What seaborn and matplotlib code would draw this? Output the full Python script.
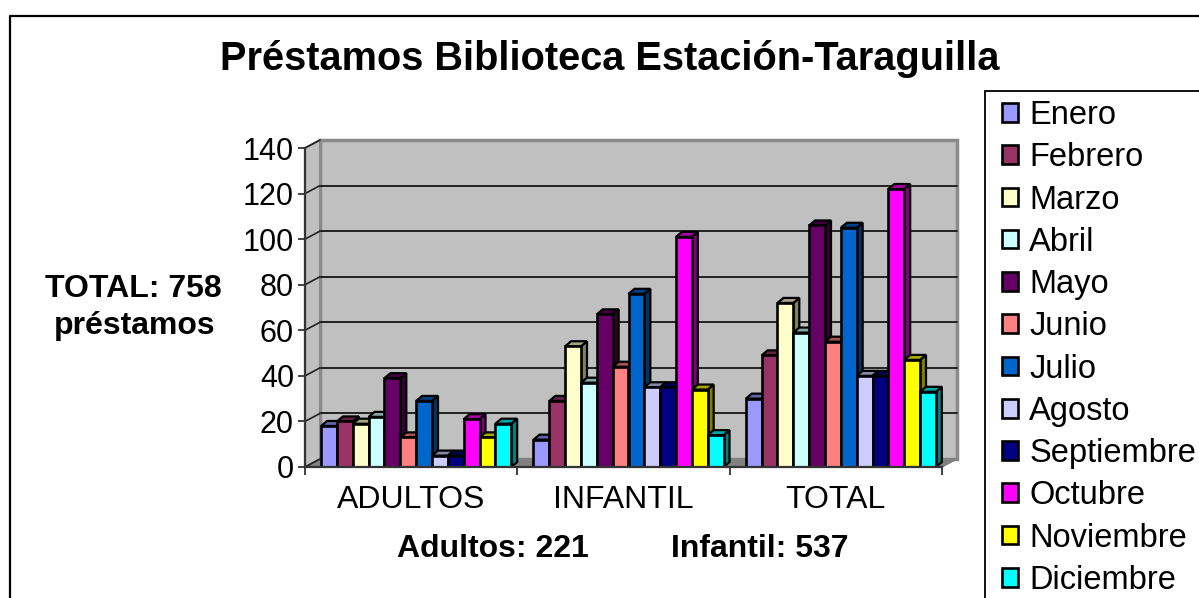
import matplotlib
matplotlib.use("Agg")
import matplotlib.pyplot as plt
from matplotlib.colors import to_rgb
from matplotlib.lines import Line2D
from matplotlib.patches import Polygon, Rectangle
import pandas as pd
import seaborn as sns

# ── Data ──────────────────────────────────────────────────────────────────────
groups = ["ADULTOS", "INFANTIL", "TOTAL"]
months = ["Enero", "Febrero", "Marzo", "Abril", "Mayo", "Junio", "Julio",
          "Agosto", "Septiembre", "Octubre", "Noviembre", "Diciembre"]
adultos = [18, 20, 19, 22, 39, 13, 29, 5, 5, 21, 13, 19]
infantil = [12, 29, 53, 37, 67, 44, 76, 35, 35, 101, 34, 14]
total = [30, 49, 72, 59, 106, 55, 105, 40, 40, 122, 47, 33]
month_colors = ["#9999FF", "#993366", "#FFFFCC", "#CCFFFF", "#660066", "#FF8080",
                "#0066CC", "#CCCCFF", "#000080", "#FF00FF", "#FFFF00", "#00FFFF"]
y_ticks = [0, 20, 40, 60, 80, 100, 120, 140]

df = pd.DataFrame({
    "grupo": [g for g in groups for _ in months],
    "mes": months * 3,
    "prestamos": adultos + infantil + total,
})

# ── Layout (pixels of the 1199x598 picture) ───────────────────────────────────
W, H = 1199, 598
X0, X1, Y0, Y1 = 305, 942, 467, 148   # front plane of the plot
DX_PX, DY_PX = 15, 8                  # depth of the walls
BAR_DX_PX, BAR_DY_PX = 6, 5           # depth of each bar
BAR_SHIFT_PX = 5                      # bars stand a little behind the front plane

sns.set_theme(style="white")
plt.rcParams["font.family"] = ["Liberation Sans", "DejaVu Sans"]

fig = plt.figure(figsize=(W / 100, H / 100), dpi=100)
ax = fig.add_axes([X0 / W, 1 - Y0 / H, (X1 - X0) / W, (Y0 - Y1) / H])
ax.patch.set_alpha(0)

sns.barplot(data=df, x="grupo", y="prestamos", hue="mes", order=groups,
            hue_order=months, palette=month_colors, width=0.895, gap=0,
            edgecolor="black", linewidth=1.9, saturation=1, ax=ax)

ax.set_xlim(-0.5, 2.5)
ax.set_ylim(0, 140)
ax.set_xlabel("")
ax.set_ylabel("")
ax.set_yticks(y_ticks)

px_x = 3 / (X1 - X0)      # data units per pixel
px_y = 140 / (Y0 - Y1)
dx, dy = DX_PX * px_x, DY_PX * px_y
bdx, bdy = BAR_DX_PX * px_x, BAR_DY_PX * px_y
xa, xb = ax.get_xlim()

# Walls and floor
wall = "#C0C0C0"
frame = "#8A8A8A"
ax.add_patch(Rectangle((xa + dx, dy), xb - xa, 140, facecolor=wall, edgecolor=frame,
                       linewidth=2.5, clip_on=False, zorder=0.1))
ax.add_patch(Polygon([(xa, 0), (xa + dx, dy), (xa + dx, 140 + dy), (xa, 140)],
                     facecolor=wall, edgecolor=frame, linewidth=1.5,
                     clip_on=False, zorder=0.2))
ax.add_patch(Polygon([(xa, 0), (xa + dx, dy), (xb + dx, dy), (xb, 0)],
                     facecolor="#808080", edgecolor="#808080", linewidth=1,
                     clip_on=False, zorder=0.3))
for v in y_ticks[1:-1]:
    ax.plot([xa + dx, xb + dx], [v + dy, v + dy], color="#222222", lw=1.4,
            clip_on=False, zorder=0.4)
for v in y_ticks:
    ax.plot([xa, xa + dx], [v, v + dy], color="#222222", lw=1.2,
            clip_on=False, zorder=0.4)

# 3D look on the bars, built from the bars seaborn drew
bars = [p for p in ax.patches if isinstance(p, Rectangle) and p.get_zorder() >= 1
        and p.get_height() > 0 and p.get_facecolor()[3] > 0]
bars = sorted(bars, key=lambda p: p.get_x())
for i, bar in enumerate(bars):
    bar.set_x(bar.get_x() + BAR_SHIFT_PX * px_x)
    x, w, h = bar.get_x(), bar.get_width(), bar.get_height()
    rgb = to_rgb(bar.get_facecolor())
    z = 2 + i * 0.01
    bar.set_zorder(z + 0.005)
    ax.add_patch(Polygon([(x + w, 0), (x + w + bdx, bdy), (x + w + bdx, h + bdy), (x + w, h)],
                         facecolor=[c * 0.5 for c in rgb], edgecolor="black",
                         linewidth=1.6, clip_on=False, zorder=z))
    ax.add_patch(Polygon([(x, h), (x + bdx, h + bdy), (x + w + bdx, h + bdy), (x + w, h)],
                         facecolor=[c * 0.65 for c in rgb], edgecolor="black",
                         linewidth=1.6, clip_on=False, zorder=z))

# Axes
sns.despine(ax=ax)
for side in ["left", "bottom"]:
    ax.spines[side].set_color("#333333")
    ax.spines[side].set_linewidth(1.6)
    ax.spines[side].set_zorder(5)
ax.tick_params(axis="y", left=True, length=5, width=1.2, color="#222222",
               labelsize=22, pad=3, labelcolor="black")
ax.set_xticks([-0.5, 0.5, 1.5, 2.5], minor=True)
ax.tick_params(axis="x", which="minor", bottom=True, length=6, width=1.2, color="#222222")
ax.tick_params(axis="x", which="major", bottom=False, labelsize=23, pad=7, labelcolor="black")

# Legend box runs past the right and bottom edge like the reference
fig.add_artist(Rectangle((985 / W, -0.05), 0.2, 1.05 - 91 / H, transform=fig.transFigure,
                         facecolor="white", edgecolor="black", linewidth=1.3, zorder=-1))
sns.move_legend(ax, "upper left", bbox_to_anchor=(1002 / W, 1 - 100 / H),
                bbox_transform=fig.transFigure, title=None, frameon=False, fontsize=23.5,
                borderaxespad=0, labelspacing=0.345, handlelength=0.5, handleheight=0.5,
                handletextpad=0.33, borderpad=0, labelcolor="black")

# Texts
def label(x, y, s, size, **kw):
    fig.text(x / W, 1 - y / H, s, fontsize=size, ha="center", va="center",
             color="black", **kw)

label(610, 59, "Préstamos Biblioteca Estación-Taraguilla", 28.6, fontweight="bold")
label(133, 289, "TOTAL: 758", 23, fontweight="bold")
label(135, 326, "préstamos", 23, fontweight="bold")
label(493, 549, "Adultos: 221", 23, fontweight="bold")
label(760, 549, "Infantil: 537", 23, fontweight="bold")

# Chart border, open at the bottom and right
fig.add_artist(Line2D([10 / W, 10 / W, 1], [0, 1 - 16 / H, 1 - 16 / H], color="black", lw=1.6))

fig.savefig("out.png", dpi=100)
